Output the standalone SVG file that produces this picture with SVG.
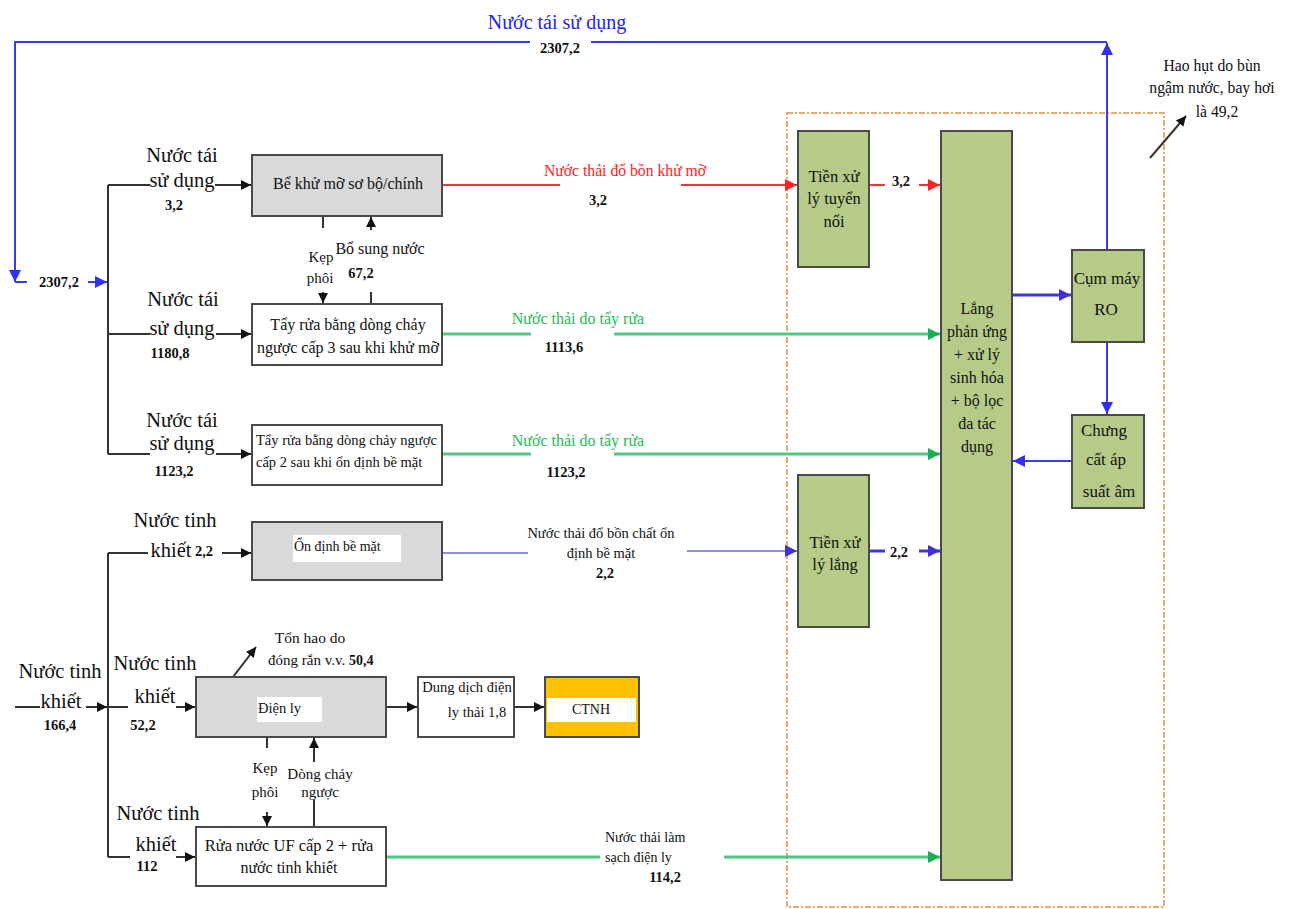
<svg xmlns="http://www.w3.org/2000/svg" width="1289" height="909" viewBox="0 0 1289 909">
<style>
text{font-family:"Liberation Serif","Times New Roman",serif;fill:#111}
.c{text-anchor:middle}
.b{font-weight:bold;font-size:14.5px}
.lbl{font-size:20.5px}
.bx{font-size:16px}
.box{stroke:#4a4a4a;stroke-width:2}
.gray{fill:#d9d9d9}
.white{fill:#fff}
.green{fill:#b7cb88}
.k{stroke:#333;stroke-width:2;fill:none}
.bl{stroke:#3a3af2;stroke-width:2;fill:none}
.pu{stroke:#4536d6;stroke-width:3;fill:none}
.re{stroke:#f33;stroke-width:2;fill:none}
.gr{stroke:#4cc784;stroke-width:3;fill:none}
.lp{stroke:#8c8cf0;stroke-width:2;fill:none}
</style>
<defs>
<marker id="ak" viewBox="0 0 10 10" refX="10" refY="5" markerWidth="10" markerHeight="10" markerUnits="userSpaceOnUse" orient="auto"><path d="M0,0L10,5L0,10z" fill="#111"/></marker>
<marker id="ab" viewBox="0 0 10 10" refX="10" refY="5" markerWidth="12" markerHeight="12" markerUnits="userSpaceOnUse" orient="auto"><path d="M0,0L10,5L0,10z" fill="#2f2ff0"/></marker>
<marker id="ap" viewBox="0 0 10 10" refX="10" refY="5" markerWidth="12" markerHeight="12" markerUnits="userSpaceOnUse" orient="auto"><path d="M0,0L10,5L0,10z" fill="#4030d8"/></marker>
<marker id="ar" viewBox="0 0 10 10" refX="10" refY="5" markerWidth="12" markerHeight="12" markerUnits="userSpaceOnUse" orient="auto"><path d="M0,0L10,5L0,10z" fill="#f22"/></marker>
<marker id="ag" viewBox="0 0 10 10" refX="10" refY="5" markerWidth="12" markerHeight="12" markerUnits="userSpaceOnUse" orient="auto"><path d="M0,0L10,5L0,10z" fill="#1aae55"/></marker>
</defs>
<rect width="1289" height="909" fill="#fff"/>

<rect id="treatment-zone" x="787" y="113" width="377" height="794" fill="none" stroke="#e8883a" stroke-width="1.5" stroke-dasharray="6 2 2 2"/>

<g id="connectors">
<path class="bl" d="M530,42H15V279"/>
<path class="bl" d="M1107,42H591"/>
<path class="bl" d="M15,270V282" marker-end="url(#ab)"/>
<path class="bl" d="M15,282H27"/>
<path class="bl" d="M88,282H107" marker-end="url(#ab)"/>
<path class="bl" d="M1107,250V43" marker-end="url(#ab)"/>
<path class="k" d="M108,185V454"/>
<path class="k" d="M108,185H150M215,185H251" marker-end="url(#ak)"/>
<path class="k" d="M108,334H150M216,334H251" marker-end="url(#ak)"/>
<path class="k" d="M108,454H150M216,454H251" marker-end="url(#ak)"/>
<path class="k" d="M323,216V228" />
<path class="k" d="M323,292V303" marker-end="url(#ak)"/>
<path class="k" d="M371,303V292"/>
<path class="k" d="M371,230V217" marker-end="url(#ak)"/>
<path class="k" d="M108,553V857"/>
<path class="k" d="M108,553H148M222,553H251" marker-end="url(#ak)"/>
<path class="k" d="M15,707H40M86,707H107" marker-end="url(#ak)"/>
<path class="k" d="M108,707H128M176,707H195" marker-end="url(#ak)"/>
<path class="k" d="M108,857H130M176,857H195" marker-end="url(#ak)"/>
<path class="k" d="M223,690L256,647" marker-end="url(#ak)"/>
<path class="k" d="M386,707H417" marker-end="url(#ak)"/>
<path class="k" d="M514,707H544" marker-end="url(#ak)"/>
<path class="k" d="M267,737V748"/>
<path class="k" d="M267,812V826" marker-end="url(#ak)"/>
<path class="k" d="M314,827V800"/>
<path class="k" d="M314,762V738" marker-end="url(#ak)"/>
<path class="re" d="M443,185H560"/>
<path class="re" d="M681,185H797" marker-end="url(#ar)"/>
<path class="re" d="M870,185H885"/>
<path class="re" d="M919,185H940" marker-end="url(#ar)"/>
<path class="gr" d="M443,334H531"/>
<path class="gr" d="M614,334H940" marker-end="url(#ag)"/>
<path class="gr" d="M443,454H531"/>
<path class="gr" d="M614,454H940" marker-end="url(#ag)"/>
<path class="lp" d="M443,553H528"/>
<path class="lp" d="M687,551H797" marker-end="url(#ap)"/>
<path class="pu" d="M870,551H885"/>
<path class="pu" d="M919,551H940" marker-end="url(#ap)"/>
<path class="gr" d="M387,857H600"/>
<path class="gr" d="M724,857H940" marker-end="url(#ag)"/>
<path class="pu" d="M1013,295H1071" marker-end="url(#ap)"/>
<path class="bl" d="M1107,343V414" marker-end="url(#ab)"/>
<path class="bl" d="M1071,461H1013" marker-end="url(#ab)"/>
<path class="k" d="M1150,158L1186,116" marker-end="url(#ak)"/>
</g>

<g id="box-degrease"><rect class="box gray" x="252" y="155" width="190" height="61"/><text class="c bx" x="348" y="189">Bể khử mỡ sơ bộ/chính</text></g>
<g id="box-rinse3"><rect class="box white" x="252" y="304" width="190" height="61"/><text class="c bx" x="348" y="330">Tẩy rửa bằng dòng chảy</text><text class="c bx" x="348" y="353">ngược cấp 3 sau khi khử mỡ</text></g>
<g id="box-rinse2"><rect class="box white" x="252" y="425" width="190" height="60"/><text x="256" y="445" font-size="14.5">Tẩy rửa bằng dòng chảy ngược</text><text x="256" y="467" font-size="14.5">cấp 2 sau khi ổn định bề mặt</text></g>
<g id="box-stabilize"><rect class="box gray" x="252" y="522" width="190" height="58"/><rect x="293" y="535" width="108" height="27" fill="#fff"/><text x="294" y="551" font-size="14">Ổn định bề mặt</text></g>
<g id="box-electrolysis"><rect class="box gray" x="196" y="677" width="190" height="60"/><rect x="257" y="697" width="65" height="25" fill="#fff"/><text x="258" y="713" font-size="14.5">Điện ly</text></g>
<g id="box-solution"><rect class="box white" x="418" y="677" width="96" height="60"/><text class="c" x="467" y="692" font-size="14.5">Dung dịch điện</text><text class="c" x="477" y="717" font-size="14.5">ly thải 1,8</text></g>
<g id="box-ctnh"><rect class="box" fill="#ffc000" x="545" y="677" width="94" height="60"/><rect x="547" y="698" width="89" height="24" fill="#fff"/><text class="c" x="591" y="714" font-size="14">CTNH</text></g>
<g id="box-uf"><rect class="box white" x="196" y="827" width="190" height="59"/><text class="c" x="289" y="851" font-size="16.5">Rửa nước UF cấp 2 + rửa</text><text class="c bx" x="289" y="873">nước tinh khiết</text></g>

<g id="box-flotation"><rect class="box green" x="798" y="131" width="71" height="136"/><text class="c" x="834" y="182" font-size="16.5">Tiền xử</text><text class="c" x="834" y="204" font-size="16.5">lý tuyển</text><text class="c" x="834" y="227" font-size="16.5">nổi</text></g>
<g id="box-settling"><rect class="box green" x="798" y="475" width="71" height="152"/><text class="c" x="835" y="548" font-size="16.5">Tiền xử</text><text class="c" x="835" y="570" font-size="16.5">lý lắng</text></g>
<g id="box-main"><rect class="box green" x="941" y="131" width="71" height="749"/>
<text class="c" x="977" y="314" font-size="16">Lắng</text><text class="c" x="977" y="337" font-size="16">phản ứng</text><text class="c" x="977" y="360" font-size="16">+ xử lý</text><text class="c" x="977" y="383" font-size="16">sinh hóa</text><text class="c" x="977" y="406" font-size="16">+ bộ lọc</text><text class="c" x="977" y="429" font-size="16">đa tác</text><text class="c" x="977" y="452" font-size="16">dụng</text></g>
<g id="box-ro"><rect class="box green" x="1072" y="250" width="72" height="92"/><text class="c" x="1107" y="284" font-size="17">Cụm máy</text><text class="c" x="1106" y="315" font-size="17">RO</text></g>
<g id="box-distill"><rect class="box green" x="1072" y="415" width="72" height="93"/><text class="c" x="1104" y="436" font-size="17">Chưng</text><text class="c" x="1106" y="465" font-size="17">cất áp</text><text class="c" x="1109" y="497" font-size="17">suất âm</text></g>

<g id="labels">
<text class="c" x="557" y="29" font-size="20" style="fill:#2323ee">Nước tái sử dụng</text>
<text class="c b" x="560" y="53">2307,2</text>
<text class="c b" x="59" y="287" font-size="15">2307,2</text>
<text class="c lbl" x="182" y="162">Nước tái</text><text class="c lbl" x="182" y="187">sử dụng</text><text class="c b" x="174" y="210">3,2</text>
<text class="c lbl" x="183" y="306">Nước tái</text><text class="c lbl" x="182" y="335">sử dụng</text><text class="c b" x="170" y="358">1180,8</text>
<text class="c lbl" x="182" y="427">Nước tái</text><text class="c lbl" x="182" y="450">sử dụng</text><text class="c b" x="174" y="476">1123,2</text>
<text class="c lbl" x="175" y="527">Nước tinh</text><text class="c lbl" x="171" y="557">khiết</text><text class="c b" x="204" y="556">2,2</text>
<text class="c lbl" x="60" y="678">Nước tinh</text><text class="c lbl" x="61" y="708">khiết</text><text class="c b" x="60" y="730">166,4</text>
<text class="c lbl" x="155" y="670">Nước tinh</text><text class="c lbl" x="155" y="703">khiết</text><text class="c b" x="143" y="730">52,2</text>
<text class="c lbl" x="158" y="820">Nước tinh</text><text class="c lbl" x="156" y="851">khiết</text><text class="c b" x="147" y="871">112</text>
<text class="c" x="321" y="262" font-size="15">Kẹp</text><text class="c" x="320" y="283" font-size="15">phôi</text>
<text class="c" x="380" y="254" font-size="16">Bổ sung nước</text><text class="c b" x="361" y="278">67,2</text>
<text class="c" x="310" y="643" font-size="15.5">Tổn hao do</text><text x="268" y="665" font-size="15">đóng rắn v.v. <tspan font-weight="bold" font-size="14">50,4</tspan></text>
<text class="c" x="265" y="773" font-size="15">Kẹp</text><text class="c" x="265" y="797" font-size="15">phôi</text>
<text class="c" x="320" y="779" font-size="15">Dòng chảy</text><text class="c" x="320" y="797" font-size="15">ngược</text>
<text class="c" x="625" y="176" font-size="15.7" style="fill:#f22">Nước thải đổ bồn khử mỡ</text><text class="c b" x="598" y="205">3,2</text>
<text class="c b" x="901" y="186">3,2</text>
<text class="c" x="578" y="324" font-size="16" style="fill:#22bb55">Nước thải do tẩy rửa</text><text class="c b" x="564" y="352">1113,6</text>
<text class="c" x="578" y="446" font-size="16" style="fill:#22bb55">Nước thải do tẩy rửa</text><text class="c b" x="566" y="477">1123,2</text>
<text class="c" x="601" y="538" font-size="14.5">Nước thải đổ bồn chất ổn</text><text class="c" x="601" y="558" font-size="14.5">định bề mặt</text><text class="c b" x="605" y="578">2,2</text>
<text class="c b" x="899" y="557">2,2</text>
<text x="605" y="842" font-size="14">Nước thải làm</text><text x="605" y="862" font-size="14">sạch điện ly</text><text class="b" x="681" y="882" text-anchor="end">114,2</text>
<text class="c" x="1212" y="71" font-size="15.7">Hao hụt do bùn</text><text class="c" x="1212" y="93" font-size="15.7">ngậm nước, bay hơi</text><text class="c" x="1217" y="117" font-size="15.7">là 49,2</text>
</g>
</svg>
